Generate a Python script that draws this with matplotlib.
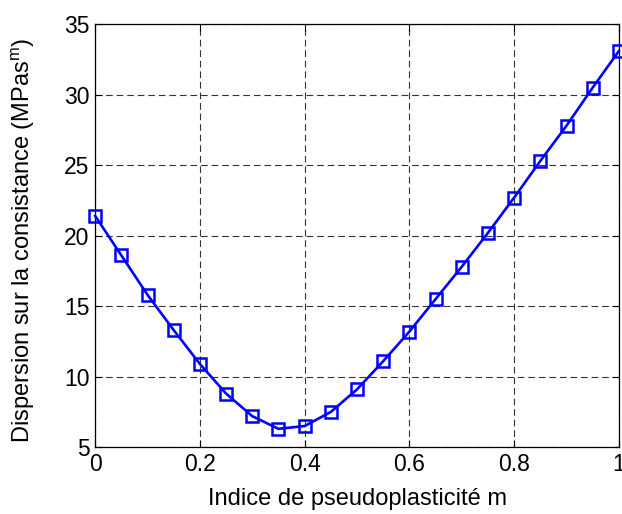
import matplotlib
matplotlib.use("Agg")
import matplotlib.pyplot as plt

# indice de pseudoplasticite m
m = [0.0, 0.05, 0.1, 0.15, 0.2, 0.25, 0.3, 0.35, 0.4, 0.45, 0.5,
     0.55, 0.6, 0.65, 0.7, 0.75, 0.8, 0.85, 0.9, 0.95, 1.0]
# dispersion sur la consistance (MPas^m)
dispersion = [21.4, 18.6, 15.8, 13.3, 10.9, 8.8, 7.2, 6.3, 6.5, 7.5, 9.1,
              11.1, 13.2, 15.5, 17.8, 20.2, 22.7, 25.3, 27.8, 30.5, 33.1]

xticks = [0, 0.2, 0.4, 0.6, 0.8, 1]
xticklabels = ["0", "0.2", "0.4", "0.6", "0.8", "1"]
yticks = [5, 10, 15, 20, 25, 30, 35]

plt.rcParams['font.family'] = ['Liberation Sans', 'DejaVu Sans']
plt.rcParams['mathtext.fontset'] = 'custom'
plt.rcParams['mathtext.rm'] = 'Liberation Sans'

fig = plt.figure(figsize=(6.22, 5.14), dpi=100)
ax = fig.add_axes([0.153, 0.130, 0.842, 0.823])

ax.plot(m, dispersion, color='#0000ff', linewidth=1.9, marker='s',
        markersize=8.5, markerfacecolor='none', markeredgecolor='#0000ff',
        markeredgewidth=1.8, clip_on=False, zorder=3)

ax.set_xlim(0, 1)
ax.set_ylim(5, 35)
ax.set_xticks(xticks)
ax.set_xticklabels(xticklabels)
ax.set_yticks(yticks)

ax.grid(True, color='#333333', linestyle=(0, (6, 3.5)), linewidth=0.8)
ax.set_axisbelow(True)
ax.tick_params(direction='in', top=True, right=True, length=5, width=0.8,
               labelsize=16.5, pad=4)
for s in ax.spines.values():
    s.set_linewidth(0.9)

ax.set_xlabel("Indice de pseudoplasticité m", fontsize=17, labelpad=9)
ax.set_ylabel(r"Dispersion sur la consistance (MPas$^{\mathrm{m}}$)",
              fontsize=17)
ax.yaxis.set_label_coords(-0.112, 0.49)

fig.savefig("out.png", dpi=100)
